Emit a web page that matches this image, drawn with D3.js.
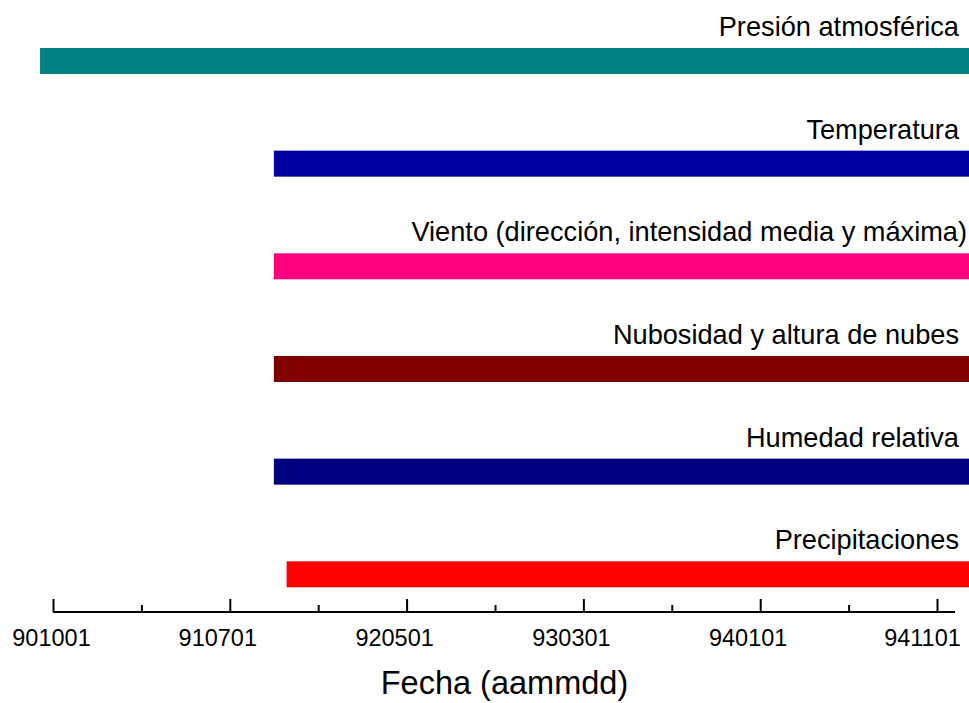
<!DOCTYPE html>
<html>
<head>
<meta charset="utf-8">
<script src="https://cdn.jsdelivr.net/npm/d3@7"></script>
<style>
  html, body { margin: 0; padding: 0; background: #fff; }
  svg { display: block; }
  text { font-family: "Liberation Sans", Arial, sans-serif; fill: #000; }
</style>
</head>
<body>
<svg id="chart" width="969" height="703"></svg>
<script>
// ---- data ----
const categories = [
  "Presión atmosférica",
  "Temperatura",
  "Viento (dirección, intensidad media y máxima)",
  "Nubosidad y altura de nubes",
  "Humedad relativa",
  "Precipitaciones"
];
const startDates = ["900911", "910915", "910915", "910915", "910915", "911007"];
const endDates   = ["941231", "941231", "941231", "941231", "941231", "941231"];
const barColors  = ["#008080", "#0000A0", "#FF0080", "#800000", "#000080", "#FF0000"];
const tickLabels = ["901001", "910701", "920501", "930301", "940101", "941101"];
const axisTitle  = "Fecha (aammdd)";

// ---- setup ----
const svg = d3.select("#chart");
const parse = d3.timeParse("%y%m%d");
const tickDates = tickLabels.map(parse);

const x0 = 53, x1 = 937;
const x = d3.scaleTime()
  .domain(tickDates)
  .range(tickDates.map((d, i) => x0 + i * (x1 - x0) / (tickDates.length - 1)));

const y = d3.scalePoint().domain(categories).range([61, 574.3]);
const barH = 26;

// ---- bars ----
svg.append("g").selectAll("rect")
  .data(categories)
  .join("rect")
  .attr("x", (c, i) => x(parse(startDates[i])))
  .attr("y", c => y(c) - barH / 2)
  .attr("width", (c, i) => x(parse(endDates[i])) - x(parse(startDates[i])))
  .attr("height", barH)
  .attr("fill", (c, i) => barColors[i]);

// ---- bar labels ----
svg.append("g").selectAll("text")
  .data(categories)
  .join("text")
  .attr("x", (c, i) => i === 2 ? 967 : 959)
  .attr("y", c => y(c) - barH / 2 - 12)
  .attr("text-anchor", "end")
  .style("font-size", "27.2px")
  .text(c => c);

// ---- axis ----
const axisY = 612;
const axisG = svg.append("g").attr("transform", `translate(0,${axisY})`);
axisG.append("line")
  .attr("x1", x0).attr("x2", 955)
  .attr("y1", 0).attr("y2", 0)
  .attr("stroke", "#000").attr("stroke-width", 2);

const major = axisG.append("g").call(
  d3.axisTop(x).tickValues(tickDates).tickSize(13).tickFormat("")
);
const minorDates = d3.pairs(tickDates).map(([a, b]) => new Date((+a + +b) / 2));
const minor = axisG.append("g").call(
  d3.axisTop(x).tickValues(minorDates).tickSize(7).tickFormat("")
);
[major, minor].forEach(g => {
  g.select(".domain").remove();
  g.selectAll(".tick line").attr("stroke", "#000").attr("stroke-width", 2);
});

// tick labels
const labelShift = (i, n) => (i === 0 ? -1.5 : i === n - 1 ? -14.5 : -12);
axisG.append("g").selectAll("text")
  .data(tickDates)
  .join("text")
  .attr("x", (d, i) => x(d) + labelShift(i, tickDates.length))
  .attr("y", 34)
  .attr("text-anchor", "middle")
  .style("font-size", "23.5px")
  .text((d, i) => tickLabels[i]);

// axis title
svg.append("text")
  .attr("x", 504.5)
  .attr("y", 694)
  .attr("text-anchor", "middle")
  .style("font-size", "32.5px")
  .text(axisTitle);
</script>
</body>
</html>
